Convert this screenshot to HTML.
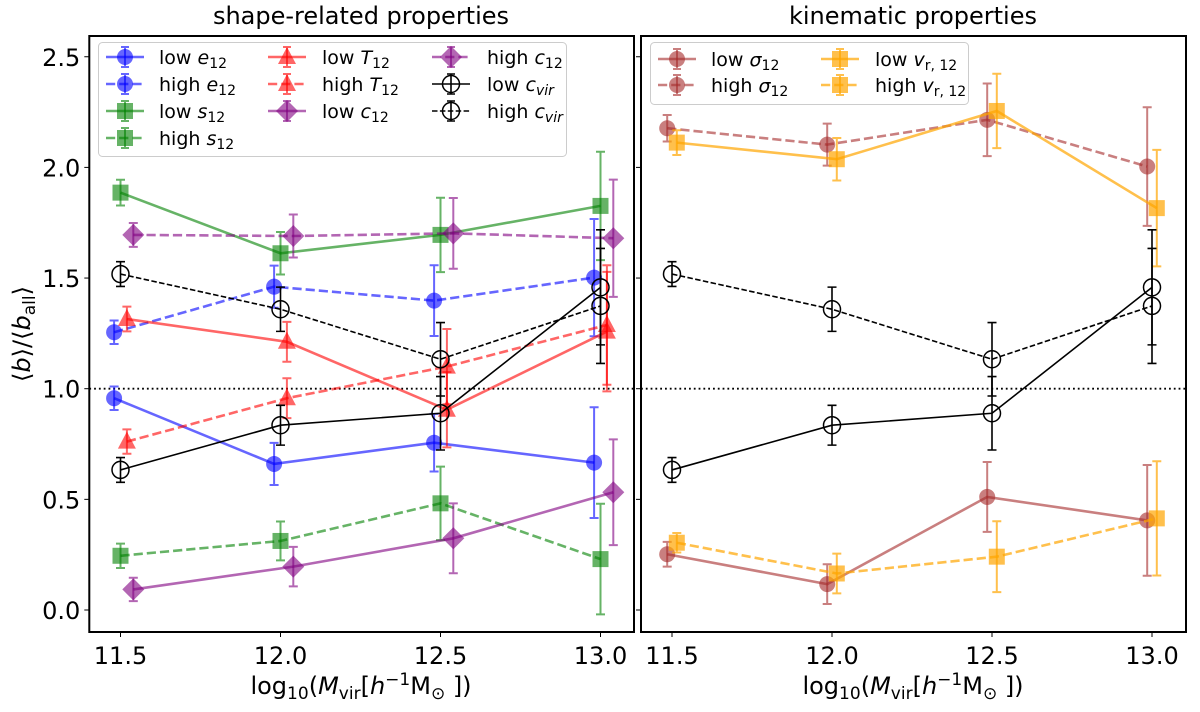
<!DOCTYPE html>
<html><head><meta charset="utf-8"><style>
html,body{margin:0;padding:0;background:#fff;}
svg{display:block;font-family:"DejaVu Sans","Liberation Sans",sans-serif;}
</style></head><body>
<svg id="chart" width="1200" height="712" viewBox="0 0 1200 712" xmlns="http://www.w3.org/2000/svg"></svg>
<script>
// ---------- data ----------
const massBins = [11.5, 12.0, 12.5, 13.0];
const yTicks = [0.0, 0.5, 1.0, 1.5, 2.0, 2.5];
const yTickLabels = ["0.0","0.5","1.0","1.5","2.0","2.5"];
const xTickLabels = ["11.5","12.0","12.5","13.0"];

const lowE12 = [0.957, 0.660, 0.756, 0.666];
const lowE12Err = [0.053, 0.095, 0.130, 0.250];
const highE12 = [1.255, 1.461, 1.398, 1.502];
const highE12Err = [0.053, 0.095, 0.160, 0.265];
const lowS12 = [1.886, 1.612, 1.695, 1.826];
const lowS12Err = [0.058, 0.096, 0.168, 0.245];
const highS12 = [0.245, 0.312, 0.482, 0.230];
const highS12Err = [0.055, 0.088, 0.166, 0.250];
const lowT12 = [1.315, 1.212, 0.905, 1.258];
const lowT12Err = [0.056, 0.090, 0.170, 0.270];
const highT12 = [0.761, 0.957, 1.100, 1.288];
const highT12Err = [0.055, 0.090, 0.170, 0.270];
const lowC12 = [0.093, 0.196, 0.324, 0.532];
const lowC12Err = [0.053, 0.089, 0.158, 0.239];
const highC12 = [1.695, 1.690, 1.702, 1.680];
const highC12Err = [0.054, 0.097, 0.160, 0.265];
const lowCvir = [0.633, 0.835, 0.889, 1.458];
const lowCvirErr = [0.056, 0.090, 0.166, 0.260];
const highCvir = [1.518, 1.359, 1.133, 1.374];
const highCvirErr = [0.056, 0.100, 0.166, 0.260];
const lowSigma12 = [0.252, 0.117, 0.511, 0.405];
const lowSigma12Err = [0.056, 0.090, 0.158, 0.250];
const highSigma12 = [2.177, 2.103, 2.215, 2.004];
const highSigma12Err = [0.060, 0.095, 0.164, 0.268];
const lowVr12 = [2.112, 2.037, 2.255, 1.816];
const lowVr12Err = [0.056, 0.096, 0.168, 0.263];
const highVr12 = [0.304, 0.165, 0.241, 0.414];
const highVr12Err = [0.044, 0.090, 0.160, 0.258];

// ---------- layout ----------
const NS = "http://www.w3.org/2000/svg";
const svg = document.getElementById('chart');
const Y0 = 610, YPU = 221.3;
const yScale = v => Y0 - v * YPU;
const panels = [
  {left: 89.3, right: 634, tick0: 120.5},
  {left: 641, right: 1186, tick0: 672}
];
const XPU = 320;
const xScaleFor = p => v => p.tick0 + (v - 11.5) * XPU;
const TOP = 36, BOTTOM = 632;

function el(tag, attrs, parent) {
  const e = document.createElementNS(NS, tag);
  for (const k in attrs) e.setAttribute(k, attrs[k]);
  (parent || svg).appendChild(e);
  return e;
}

function marker(g, shape, x, y, color) {
  let m;
  if (shape === 'circle') m = el('circle', {cx: x, cy: y, r: 8}, g);
  else if (shape === 'square') m = el('rect', {x: x - 8, y: y - 8, width: 16, height: 16}, g);
  else if (shape === 'triangle') m = el('polygon', {points: `${x},${y-10} ${x+9},${y+7} ${x-9},${y+7}`}, g);
  else if (shape === 'diamond') m = el('polygon', {points: `${x},${y-11} ${x+11},${y} ${x},${y+11} ${x-11},${y}`}, g);
  else if (shape === 'open') m = el('circle', {cx: x, cy: y, r: 8.5}, g);
  if (shape === 'open') { m.setAttribute('fill', 'none'); m.setAttribute('stroke', '#000'); m.setAttribute('stroke-width', '1.5'); }
  else { m.setAttribute('fill', color); }
  return m;
}

function drawSeries(panelIdx, name, vals, errs, offset, color, shape, dashed, lw) {
  const p = panels[panelIdx];
  const xs = xScaleFor(p);
  const g = el('g', {});
  
  
  const pts = vals.map((v, i) => [xs(massBins[i] + offset), yScale(v)]);
  const line = el('polyline', {points: pts.map(q => q.join(',')).join(' '), fill: 'none', stroke: color, 'stroke-width': lw}, g);
  
  
  if (dashed) line.setAttribute('stroke-dasharray', lw > 2 ? '9.2,4' : '5.5,2.4');
  vals.forEach((v, i) => {
    const x = xs(massBins[i] + offset);
    const y1 = yScale(v + errs[i]), y2 = yScale(v - errs[i]);
    const eb = el('path', {d: `M${x},${y1}V${y2}M${x-4.5},${y1}H${x+4.5}M${x-4.5},${y2}H${x+4.5}`, stroke: color, 'stroke-width': shape === 'open' ? 1.6 : 2, fill: 'none'}, g);
    
    
    const m = marker(g, shape, x, yScale(v), color);
    
    
  });
}

// ---------- axes ----------
panels.forEach((p, pi) => {
  const xs = xScaleFor(p);
  const ref = el('line', {x1: p.left, x2: p.right, y1: yScale(1.0), y2: yScale(1.0), stroke: '#000', 'stroke-width': 1.8, 'stroke-dasharray': '1.8,3'});
  
  
  yTicks.forEach((t, i) => {
    const tk = el('line', {x1: p.left - 5, x2: p.left, y1: yScale(t), y2: yScale(t), stroke: '#000', 'stroke-width': 1});
    
    
    if (pi === 0) {
      const tl = el('text', {x: p.left - 9, y: yScale(t) + 9, 'text-anchor': 'end', 'font-size': 24});
      tl.textContent = yTickLabels[i];
      
      
    }
  });
  massBins.forEach((m, i) => {
    const tk = el('line', {x1: xs(m), x2: xs(m), y1: BOTTOM, y2: BOTTOM + 5, stroke: '#000', 'stroke-width': 1});
    
    
    const tl = el('text', {x: xs(m), y: BOTTOM + 32, 'text-anchor': 'middle', 'font-size': 24});
    tl.textContent = xTickLabels[i];
    
    
  });
});

// ---------- series ----------
drawSeries(0, 'low-e12', lowE12, lowE12Err, -0.02, 'rgba(0,0,255,0.6)', 'circle', false, 2.6);
drawSeries(0, 'high-e12', highE12, highE12Err, -0.02, 'rgba(0,0,255,0.6)', 'circle', true, 2.6);
drawSeries(0, 'low-s12', lowS12, lowS12Err, 0, 'rgba(0,128,0,0.6)', 'square', false, 2.6);
drawSeries(0, 'high-s12', highS12, highS12Err, 0, 'rgba(0,128,0,0.6)', 'square', true, 2.6);
drawSeries(0, 'low-T12', lowT12, lowT12Err, 0.02, 'rgba(255,0,0,0.6)', 'triangle', false, 2.6);
drawSeries(0, 'high-T12', highT12, highT12Err, 0.02, 'rgba(255,0,0,0.6)', 'triangle', true, 2.6);
drawSeries(0, 'low-c12', lowC12, lowC12Err, 0.04, 'rgba(128,0,128,0.6)', 'diamond', false, 2.6);
drawSeries(0, 'high-c12', highC12, highC12Err, 0.04, 'rgba(128,0,128,0.6)', 'diamond', true, 2.6);
drawSeries(0, 'low-cvir', lowCvir, lowCvirErr, 0, '#000', 'open', false, 1.6);
drawSeries(0, 'high-cvir', highCvir, highCvirErr, 0, '#000', 'open', true, 1.6);

drawSeries(1, 'low-sigma12', lowSigma12, lowSigma12Err, -0.015, 'rgba(165,42,42,0.6)', 'circle', false, 2.6);
drawSeries(1, 'high-sigma12', highSigma12, highSigma12Err, -0.015, 'rgba(165,42,42,0.6)', 'circle', true, 2.6);
drawSeries(1, 'low-vr12', lowVr12, lowVr12Err, 0.015, 'rgba(255,165,0,0.7)', 'square', false, 2.6);
drawSeries(1, 'high-vr12', highVr12, highVr12Err, 0.015, 'rgba(255,165,0,0.7)', 'square', true, 2.6);
drawSeries(1, 'low-cvir-kin', lowCvir, lowCvirErr, 0, '#000', 'open', false, 1.6);
drawSeries(1, 'high-cvir-kin', highCvir, highCvirErr, 0, '#000', 'open', true, 1.6);

// ---------- frames ----------
panels.forEach((p, pi) => {
  const fr = el('rect', {x: p.left, y: TOP, width: p.right - p.left, height: BOTTOM - TOP, fill: 'none', stroke: '#000', 'stroke-width': 2});
  
  
});

// ---------- legends ----------
function legendEntry(x, y, tx, color, shape, dashed, lw, label, name) {
  const g = el('g', {});
  
  
  const ln = el('line', {x1: x, x2: x + 38, y1: y, y2: y, stroke: color, 'stroke-width': lw}, g);
  if (dashed) ln.setAttribute('stroke-dasharray', lw > 2 ? '9.2,4' : '5.5,2.4');
  const cx = x + 19;
  el('path', {d: `M${cx},${y-10}V${y+10}M${cx-4},${y-10}H${cx+4}M${cx-4},${y+10}H${cx+4}`, stroke: color, 'stroke-width': shape === 'open' ? 1.6 : 2}, g);
  marker(g, shape, cx, y, color);
  const t = el('text', {x: tx, y: y + 7, 'font-size': 19}, g);
  t.innerHTML = label;
}
const sub = s => `<tspan font-size="14" dy="4">${s}</tspan>`;
const lb1 = el('rect', {x: 98.5, y: 42.5, width: 468, height: 114, rx: 4, fill: 'rgba(255,255,255,0.85)', stroke: '#ccc', 'stroke-width': 1});


legendEntry(106, 57, 159, 'rgba(0,0,255,0.6)', 'circle', false, 2.6, `low <tspan font-style="italic">e</tspan>${sub('12')}`, 'low-e12');
legendEntry(106, 84, 159, 'rgba(0,0,255,0.6)', 'circle', true, 2.6, `high <tspan font-style="italic">e</tspan>${sub('12')}`, 'high-e12');
legendEntry(106, 111, 159, 'rgba(0,128,0,0.6)', 'square', false, 2.6, `low <tspan font-style="italic">s</tspan>${sub('12')}`, 'low-s12');
legendEntry(106, 138, 159, 'rgba(0,128,0,0.6)', 'square', true, 2.6, `high <tspan font-style="italic">s</tspan>${sub('12')}`, 'high-s12');
legendEntry(268, 57, 322, 'rgba(255,0,0,0.6)', 'triangle', false, 2.6, `low <tspan font-style="italic">T</tspan>${sub('12')}`, 'low-T12');
legendEntry(268, 84, 322, 'rgba(255,0,0,0.6)', 'triangle', true, 2.6, `high <tspan font-style="italic">T</tspan>${sub('12')}`, 'high-T12');
legendEntry(268, 111, 322, 'rgba(128,0,128,0.6)', 'diamond', false, 2.6, `low <tspan font-style="italic">c</tspan>${sub('12')}`, 'low-c12');
legendEntry(432, 57, 487, 'rgba(128,0,128,0.6)', 'diamond', true, 2.6, `high <tspan font-style="italic">c</tspan>${sub('12')}`, 'high-c12');
legendEntry(432, 84, 487, '#000', 'open', false, 1.6, `low <tspan font-style="italic">c</tspan><tspan font-size="14" dy="4" font-style="italic">vir</tspan>`, 'low-cvir');
legendEntry(432, 111, 487, '#000', 'open', true, 1.6, `high <tspan font-style="italic">c</tspan><tspan font-size="14" dy="4" font-style="italic">vir</tspan>`, 'high-cvir');

const lb2 = el('rect', {x: 650.5, y: 42.5, width: 318, height: 62, rx: 4, fill: 'rgba(255,255,255,0.85)', stroke: '#ccc', 'stroke-width': 1});


legendEntry(658, 59, 711, 'rgba(165,42,42,0.6)', 'circle', false, 2.6, `low <tspan font-style="italic">σ</tspan>${sub('12')}`, 'low-sigma12');
legendEntry(658, 85, 711, 'rgba(165,42,42,0.6)', 'circle', true, 2.6, `high <tspan font-style="italic">σ</tspan>${sub('12')}`, 'high-sigma12');
legendEntry(821, 59, 875, 'rgba(255,165,0,0.7)', 'square', false, 2.6, `low <tspan font-style="italic">v</tspan>${sub('r, 12')}`, 'low-vr12');
legendEntry(821, 85, 875, 'rgba(255,165,0,0.7)', 'square', true, 2.6, `high <tspan font-style="italic">v</tspan>${sub('r, 12')}`, 'high-vr12');

// ---------- titles & labels ----------
const t1 = el('text', {x: 361, y: 24, 'text-anchor': 'middle', 'font-size': 24});
t1.textContent = 'shape-related properties';


const t2 = el('text', {x: 913, y: 24, 'text-anchor': 'middle', 'font-size': 24});
t2.textContent = 'kinematic properties';


[361, 913].forEach(cx => {
  const xl = el('text', {x: cx, y: 694, 'text-anchor': 'middle', 'font-size': 24});
  xl.innerHTML = `log<tspan font-size="17" dy="5">10</tspan><tspan dy="-5">(</tspan><tspan font-style="italic">M</tspan><tspan font-size="17" dy="5">vir</tspan><tspan dy="-5">[</tspan><tspan font-style="italic">h</tspan><tspan font-size="17" dy="-9">−1</tspan><tspan dy="9">M</tspan><tspan font-size="17" dy="5">⊙</tspan><tspan dy="-5"> ])</tspan>`;
  
  
});
const yl = el('text', {x: 0, y: 0, 'text-anchor': 'middle', 'font-size': 24, transform: 'translate(30,334) rotate(-90)'});
yl.innerHTML = `⟨<tspan font-style="italic">b</tspan>⟩/⟨<tspan font-style="italic">b</tspan><tspan font-size="17" dy="5">all</tspan><tspan dy="-5">⟩</tspan>`;


</script>
</body></html>
